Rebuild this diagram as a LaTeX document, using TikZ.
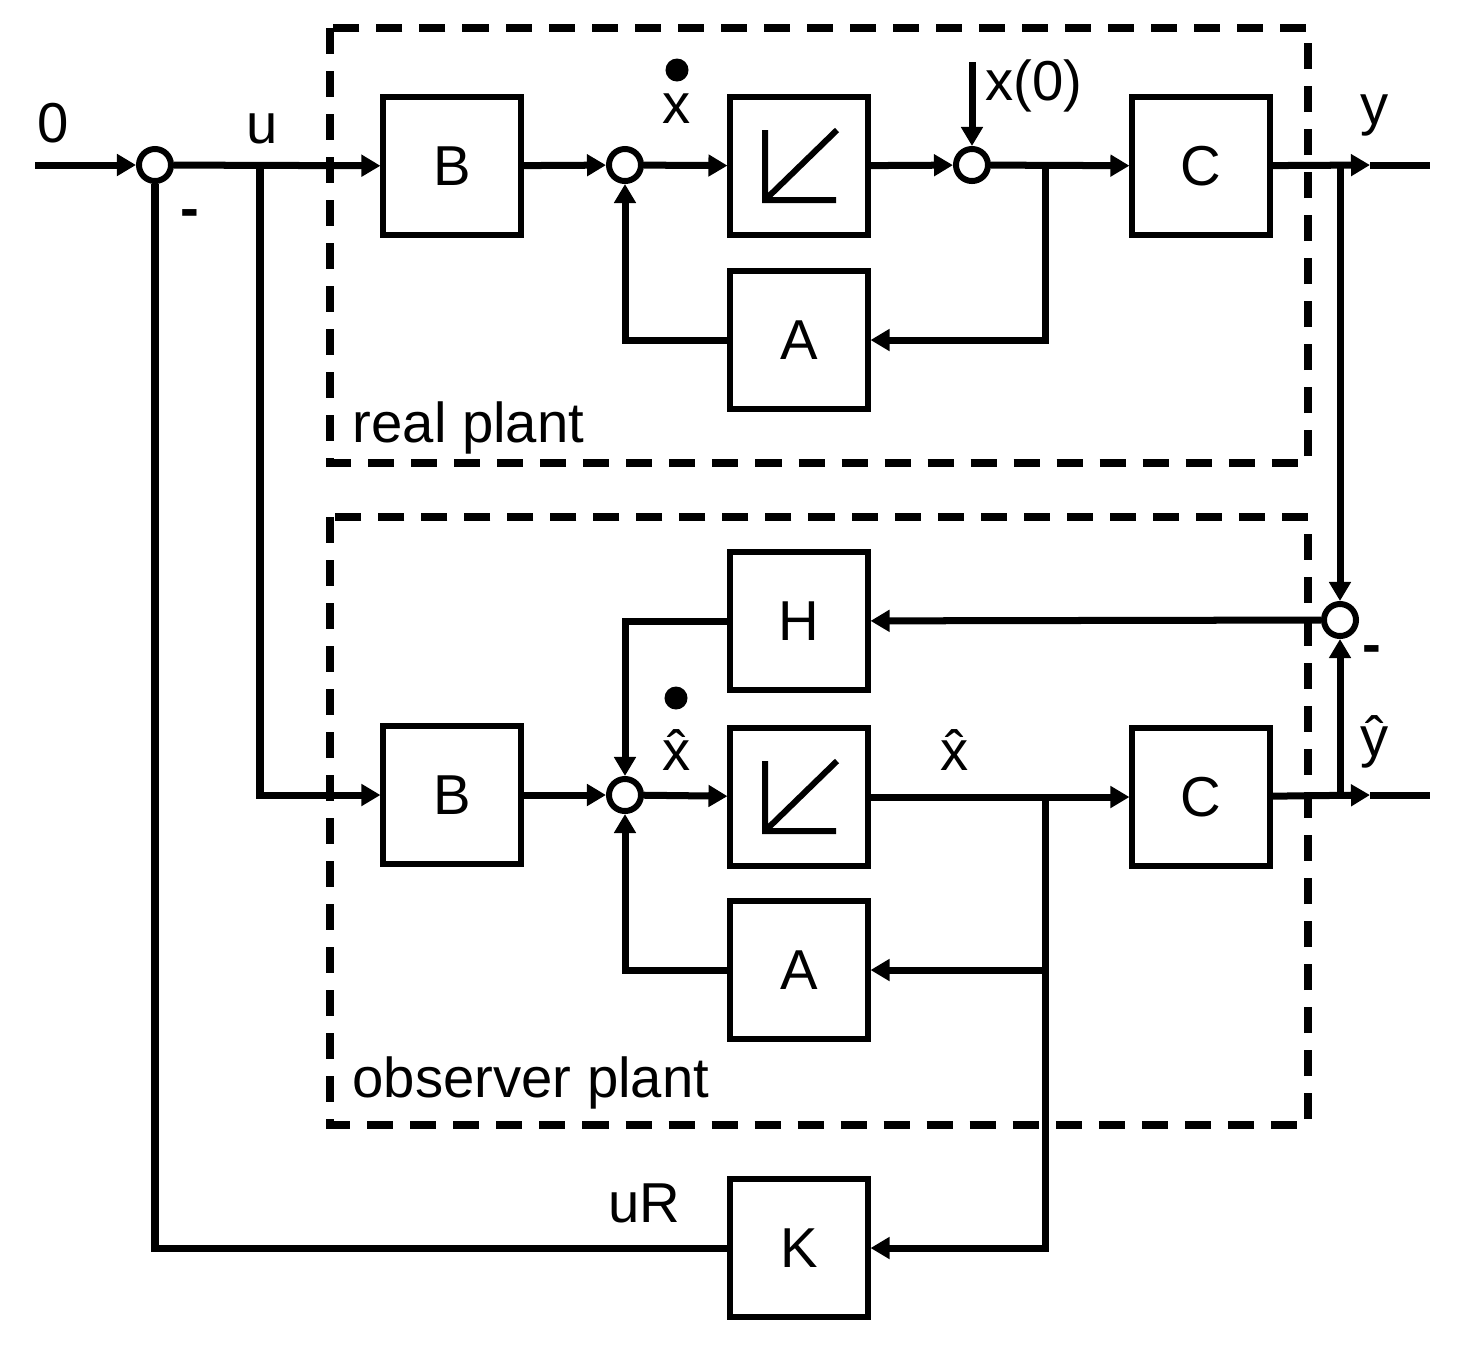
\documentclass[tikz,border=0pt]{standalone}
\usepackage{fontspec}
\setmainfont{Liberation Sans}
\usetikzlibrary{arrows.meta}
\tikzset{
  blk/.style={draw, line width=0.06cm, minimum width=1.37cm, minimum height=1.37cm, inner sep=0pt,
              font=\fontsize{16}{19}\selectfont},
  sum/.style={draw, circle, line width=0.06cm, minimum size=0.32cm, inner sep=0pt},
  sig/.style={line width=0.07cm, -{Triangle[length=0.19cm,width=0.21cm]}},
  wire/.style={line width=0.07cm},
  intg/.style={line width=0.06cm},
  plant/.style={line width=0.08cm, dash pattern=on 0.26cm off 0.17cm},
  lbl/.style={font=\fontsize{16}{19}\selectfont, inner sep=0pt, anchor=base},
  dotn/.style={circle, fill, minimum size=0.23cm, inner sep=0pt}
}
% integrator symbol inside a block
\newcommand{\integ}[1]{%
  \draw[intg] ([shift={(-34,-36)}]#1.center) -- ([shift={(-34,34)}]#1.center) -- ([shift={(37,34)}]#1.center)
              ([shift={(-34,34)}]#1.center) -- ([shift={(38,-36)}]#1.center);}

\begin{document}
\begin{tikzpicture}[x=0.01cm, y=-0.01cm]
\useasboundingbox (0,0) rectangle (1484,1344);

% plants
\draw[plant] (330,28) rectangle (1308,463);
\draw[plant] (330,517) rectangle (1308,1125);
\node[lbl, anchor=base west] (realp) at (352,442) {real plant};
\node[lbl, anchor=base west] (obsp) at (352,1097) {observer plant};

% blocks
\node[sum] (s1) at (155,165) {};
\node[blk] (B1) at (452,166) {B};
\node[sum] (s2) at (625,165) {};
\node[blk] (I1) at (799,166) {};
\node[sum] (s3) at (972,165) {};
\node[blk] (C1) at (1201,166) {C};
\node[blk] (A1) at (799,340) {A};
\node[sum] (s4) at (1340,620) {};
\node[blk] (H) at (799,621) {H};
\node[blk] (B2) at (452,795) {B};
\node[sum] (s5) at (625,795) {};
\node[blk] (I2) at (799,797) {};
\node[blk] (C2) at (1201,797) {C};
\node[blk] (A2) at (799,970) {A};
\node[blk] (K) at (799,1248) {K};
\integ{I1}
\integ{I2}

% branch points and ends
\coordinate (in) at (35,165);
\coordinate (u) at (260,165);
\coordinate (x0) at (972,62);
\coordinate (xb1) at (1045,165);
\coordinate (yb) at (1340,165);
\coordinate (ya) at (1370,165);
\coordinate (yout) at (1430,165);
\coordinate (xb2) at (1045,795);
\coordinate (yhb) at (1340,795);
\coordinate (yha) at (1370,795);
\coordinate (yhout) at (1430,795);

% real plant
\draw[sig] (in) -- (s1);
\draw[sig] (s1) -- (B1);
\draw[sig] (B1) -- (s2);
\draw[sig] (s2) -- (I1);
\draw[sig] (I1) -- (s3);
\draw[sig] (x0) -- (s3);
\draw[sig] (s3) -- (C1);
\draw[sig] (xb1) |- (A1);
\draw[sig] (A1) -| (s2);
\draw[sig] (C1) -- (ya);
\draw[wire] (ya) -- (yout);
\draw[sig] (yb) -- (s4);

% observer
\draw[sig] (u) |- (B2);
\draw[sig] (s4) -- (H);
\draw[sig] (H) -| (s5);
\draw[sig] (B2) -- (s5);
\draw[sig] (s5) -- (I2);
\draw[sig] (I2) -- (C2);
\draw[sig] (xb2) |- (A2);
\draw[sig] (A2) -| (s5);
\draw[sig] (C2) -- (yha);
\draw[wire] (yha) -- (yhout);
\draw[sig] (yhb) -- (s4);

% state feedback
\draw[sig] (xb2) |- (K);
\draw[wire] (K) -| (s1);

% labels
\node[lbl] (l0) at (53,142) {0};
\node[lbl] (lu) at (262,143) {u};
\node[lbl] (lm1) at (190,227) {\textbf{-}};
\node[dotn] (xd1) at (677,70) {};
\node[lbl] (lx1) at (677,123) {x};
\node[lbl, anchor=base west] (lx0) at (985,100) {x(0)};
\node[lbl] (ly) at (1375,124) {y};
\node[lbl] (lm2) at (1372,663) {\textbf{-}};
\node[lbl] (lyh) at (1375,756) {\^{y}};
\node[dotn] (xd2) at (676,698) {};
\node[lbl] (lx2) at (677,770) {\^{x}};
\node[lbl] (lx3) at (955,770) {\^{x}};
\node[lbl] (luR) at (644,1222) {uR};
\end{tikzpicture}
\end{document}
